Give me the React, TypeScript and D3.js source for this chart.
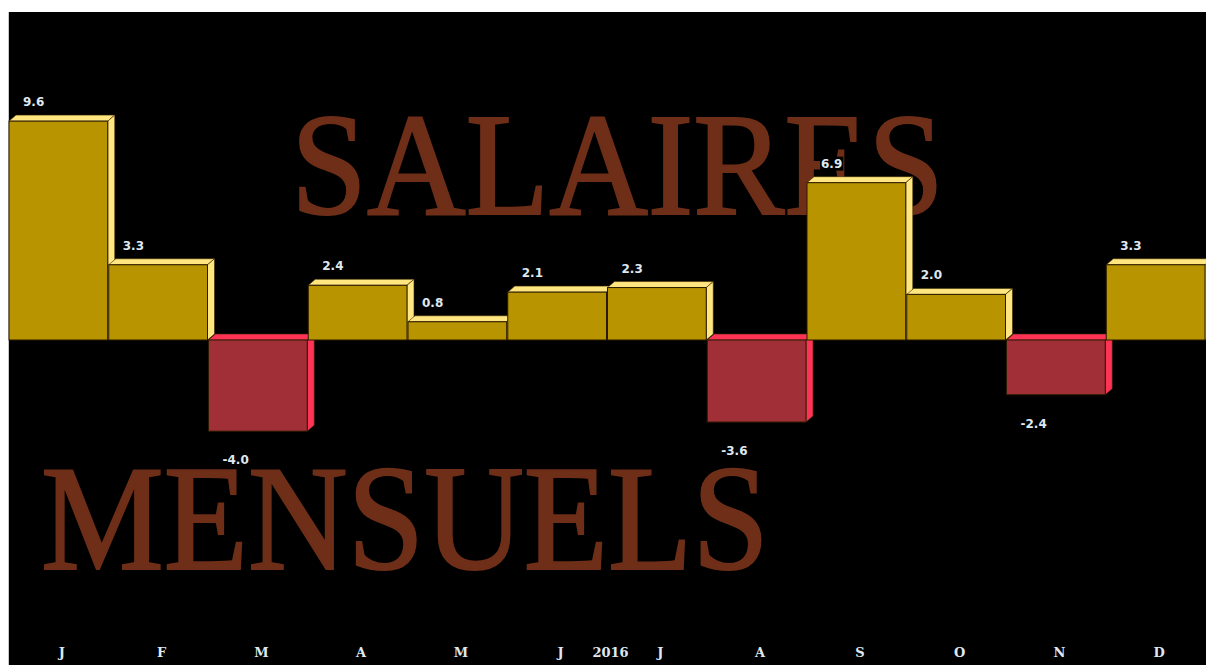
import React, { useEffect, useRef } from 'react';
import * as d3 from 'd3';

const months = ['J', 'F', 'M', 'A', 'M', 'J', 'J', 'A', 'S', 'O', 'N', 'D'];
const values = [9.6, 3.3, -4.0, 2.4, 0.8, 2.1, 2.3, -3.6, 6.9, 2.0, -2.4, 3.3];
const yearLabel = '2016';
const titleTop = 'SALAIRES';
const titleBottom = 'MENSUELS';

const W = 1206;
const H = 665;
const left = 9;
const right = 1206;
const depthX = 7;
const depthY = 6;

const posFront = '#b89400';
const posFace = '#ffe680';
const negFront = '#a02f37';
const negFace = '#ff3355';
const labelColor = '#dfe8f0';
const titleColor = '#6e2e17';

const App = () => {
  const ref = useRef<SVGSVGElement>(null);

  useEffect(() => {
    const svg = d3.select(ref.current);
    svg.selectAll('*').remove();

    const x = d3
      .scaleBand<number>()
      .domain(d3.range(months.length))
      .range([left, right])
      .padding(0);

    const y = d3.scaleLinear().domain([0, 10]).range([340, 112]);

    svg.append('rect').attr('x', 8).attr('y', 12).attr('width', W - 8).attr('height', H - 12).attr('fill', '#000');
    svg.append('line').attr('x1', 8.5).attr('x2', 8.5).attr('y1', 12).attr('y2', H).attr('stroke', '#c8c8c8');

    // titles sit behind the bars
    svg
      .append('text')
      .attr('x', 291)
      .attr('y', 214)
      .attr('textLength', 653)
      .attr('lengthAdjust', 'spacingAndGlyphs')
      .attr('font-family', '"Liberation Serif", "Times New Roman", serif')
      .attr('font-size', 146)
      .attr('fill', titleColor)
      .attr('stroke', titleColor)
      .attr('stroke-width', 2.2)
      .text(titleTop);

    svg
      .append('text')
      .attr('x', 41)
      .attr('y', 569)
      .attr('textLength', 728)
      .attr('lengthAdjust', 'spacingAndGlyphs')
      .attr('font-family', '"Liberation Serif", "Times New Roman", serif')
      .attr('font-size', 150)
      .attr('fill', titleColor)
      .attr('stroke', titleColor)
      .attr('stroke-width', 2.2)
      .text(titleBottom);

    const bw = x.bandwidth() - 1;

    const bars = svg
      .selectAll('g.bar')
      .data(values)
      .enter()
      .append('g')
      .classed('bar', true);

    bars.each(function (v, i) {
      const g = d3.select(this);
      const x0 = x(i) as number;
      const top = v >= 0 ? y(v) : y(0);
      const bottom = v >= 0 ? y(0) : y(v);
      const face = v >= 0 ? posFace : negFace;
      const front = v >= 0 ? posFront : negFront;
      const x1 = x0 + bw;

      g.append('path')
        .attr('d', `M${x0},${top} L${x0 + depthX},${top - depthY} L${x1 + depthX},${top - depthY} L${x1},${top} Z`)
        .attr('fill', face)
        .attr('stroke', '#3a2a00')
        .attr('stroke-width', 0.6);
      g.append('path')
        .attr('d', `M${x1},${top} L${x1 + depthX},${top - depthY} L${x1 + depthX},${bottom - depthY} L${x1},${bottom} Z`)
        .attr('fill', face)
        .attr('stroke', '#3a2a00')
        .attr('stroke-width', 0.6);
      g.append('rect')
        .attr('x', x0)
        .attr('y', top)
        .attr('width', bw)
        .attr('height', bottom - top)
        .attr('fill', front)
        .attr('stroke', '#2a1a00')
        .attr('stroke-width', 1);
    });

    // value labels with a black backing box
    values.forEach((v, i) => {
      const lx = (x(i) as number) + 14;
      const ly = v >= 0 ? y(v) - 15 : y(v) + 33;
      const t = svg
        .append('text')
        .attr('x', lx)
        .attr('y', ly)
        .attr('font-family', '"DejaVu Sans", Verdana, sans-serif')
        .attr('font-weight', 'bold')
        .attr('font-size', 12)
        .attr('fill', labelColor)
        .text(v.toFixed(1));
      const node = t.node() as SVGTextElement;
      const bb = node.getBBox();
      svg
        .insert('rect', () => node)
        .attr('x', bb.x - 1)
        .attr('y', bb.y)
        .attr('width', bb.width + 2)
        .attr('height', bb.height)
        .attr('fill', '#000');
    });

    svg
      .selectAll('text.month')
      .data(months)
      .enter()
      .append('text')
      .classed('month', true)
      .attr('x', (d, i) => (x(i) as number) + x.bandwidth() / 2 + 3)
      .attr('y', 657)
      .attr('text-anchor', 'middle')
      .attr('font-family', '"DejaVu Serif", Georgia, serif')
      .attr('font-weight', 'bold')
      .attr('font-size', 13)
      .attr('fill', labelColor)
      .text(d => d);

    svg
      .append('text')
      .attr('x', (x(6) as number) + 3)
      .attr('y', 657)
      .attr('text-anchor', 'middle')
      .attr('font-family', '"DejaVu Serif", Georgia, serif')
      .attr('font-weight', 'bold')
      .attr('font-size', 13)
      .attr('fill', labelColor)
      .text(yearLabel);
  });

  return (
    <svg
      ref={ref}
      width={W}
      height={H}
      style={{ position: 'absolute', left: 0, top: 0, background: '#fff' }}
    ></svg>
  );
};

export default App;
